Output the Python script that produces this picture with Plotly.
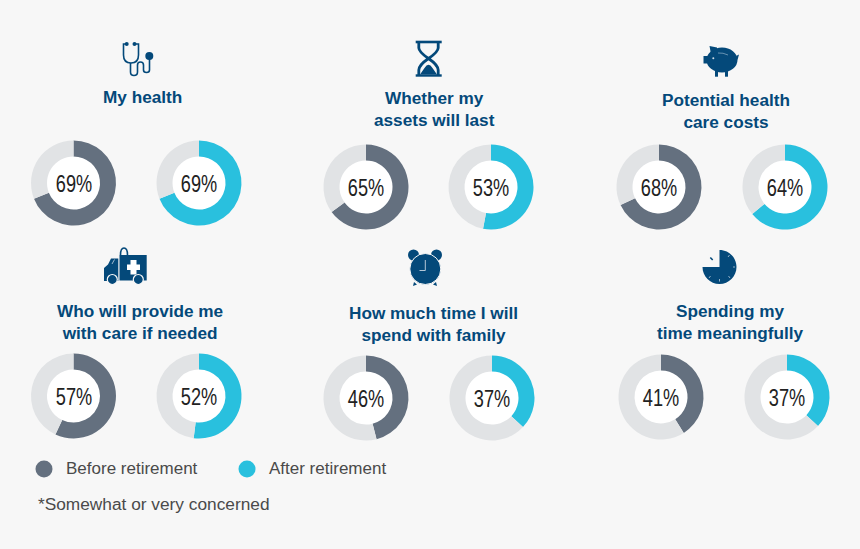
import plotly.graph_objects as go

W, H = 860, 549

titles = ['My health', 'Whether my<br>assets will last', 'Potential health<br>care costs',
          'Who will provide me<br>with care if needed', 'How much time I will<br>spend with family',
          'Spending my<br>time meaningfully']
before = [69, 65, 68, 57, 46, 41]
after = [69, 53, 64, 52, 37, 37]
series_names = ['Before retirement', 'After retirement']
footnote = '*Somewhat or very concerned'

NAVY = '#04497a'
SLATE = '#64707f'
CYAN = '#29c0de'
TRACK = '#e1e3e5'
BG = '#f7f7f7'

# layout in page pixels
title_pos = [(142, 97), (434.5, 109), (726, 111), (140, 322), (433, 323.5), (730, 322)]
before_pos = [(73.5, 183), (366, 187), (659, 187), (73.5, 396), (366, 398), (661, 397)]
after_pos = [(199, 183), (491, 187), (785, 187), (199, 396), (492, 398), (787, 397)]
R_OUT, R_IN = 42.5, 26.5
FONT = 'Liberation Sans'


def donut(val, center, color):
    cx, cy = center
    return go.Pie(values=[val, 100 - val], sort=False, direction='clockwise', rotation=0,
                  hole=R_IN / R_OUT, textinfo='none', hoverinfo='skip', showlegend=False,
                  marker=dict(colors=[color, TRACK], line=dict(width=0)),
                  domain=dict(x=[(cx - R_OUT) / W, (cx + R_OUT) / W],
                              y=[1 - (cy + R_OUT) / H, 1 - (cy - R_OUT) / H]))


def circle(cx, cy, r, fill=NAVY, line=None, lw=0, layer='above'):
    return dict(type='circle', x0=cx - r, x1=cx + r, y0=cy - r, y1=cy + r, xref='x', yref='y',
                fillcolor=fill, line=dict(color=line or fill, width=lw), layer=layer)


def ellipse(cx, cy, rx, ry, fill=NAVY):
    return dict(type='circle', x0=cx - rx, x1=cx + rx, y0=cy - ry, y1=cy + ry, xref='x', yref='y',
                fillcolor=fill, line=dict(color=fill, width=0), layer='above')


def path(d, fill=NAVY):
    return dict(type='path', path=d, xref='x', yref='y', fillcolor=fill,
                line=dict(color=fill, width=0), layer='above')


def stroke(d, color=NAVY, lw=1.6):
    return dict(type='path', path=d, xref='x', yref='y', fillcolor='rgba(0,0,0,0)',
                line=dict(color=color, width=lw), layer='above')


def stethoscope():
    return [
        stroke('M126,44 H123.5 V55 Q123.5,63 131,63 Q138.5,63 138.5,55 V44 H135'),
        stroke('M130.5,63 V72 Q130.5,75.5 134,75.5 Q137.5,75.5 137.5,72 V65 Q137.5,62 140.5,62 '
               'Q143.5,62 143.5,65 V70 Q143.5,72.5 146.5,72.5 Q149.5,72.5 149.5,70 V58'),
        circle(126.7, 44, 2), circle(134.5, 44, 2), circle(149.3, 56, 4),
    ]


def hourglass():
    return [
        path('M415.7,40.7 H441.7 V43.3 H415.7 Z'),
        path('M415.7,74.3 H441.7 V76.7 H415.7 Z'),
        stroke('M418.8,42 V48 Q419,52 428.5,58.5 Q438,52 438.2,48 V42 '
               'M418.8,75 V70 Q419,65 428.5,58.5 Q438,65 438.2,70 V75', lw=2.8),
        path('M420,74.5 L424.5,68 Q428.5,61.5 432.5,68 L437,74.5 Z'),
    ]


def piggy():
    return [
        ellipse(722, 60, 15.5, 12.5),
        path('M703.5,56 H712 V63.5 H703.5 Z'),
        path('M709.5,46 L717,47.5 L717,53 L711,54 Z'),
        path('M736,56 L739,54.5 L737.5,60 Z'),
        path('M715,68 H718 V76.7 H715 Z'),
        path('M725,68 H728 V76.7 H725 Z'),
        circle(713.3, 58.3, 1, fill='#cfdbe5'),
        stroke('M718,53 Q723,52.5 728,55', color='#8fb0c8', lw=0.7),
    ]


def ambulance():
    return [
        stroke('M120.5,255 Q120.5,248 124,248 Q127.5,248 127.5,255', lw=1.6),
        path('M119.5,255 H146.7 V280.5 H119.5 Z'),
        path('M104,281 V268 L108,264.5 L111,258.5 H118.3 V281 Z'),
        path('M127,264.5 H130.5 V260 H136.5 V264.5 H140 V270 H136.5 V274.5 H130.5 V270 H127 Z', fill='#ffffff'),
        stroke('M112,264 L114.5,259.5', color='#c7d6e2', lw=0.8),
        circle(112.3, 279.5, 5, line=BG, lw=1.2), circle(138.3, 279.5, 5, line=BG, lw=1.2),
    ]


def alarm():
    return [
        circle(413.5, 255, 5.5), circle(436.5, 255, 5.5),
        circle(425.3, 269, 15.5, line=BG, lw=1),
        path('M414,282 L417,284.5 L413,286 Z'), path('M436,282 L433,284.5 L437,286 Z'),
        stroke('M425.3,260 V270.5 H419.5', color='#c7d6e2', lw=0.9),
    ]


def timer():
    ticks = ['M728,257 L729.5,255', 'M733,267 H735', 'M728.5,276 L730,278', 'M719.5,279 V281.5',
             'M710.5,276 L709,278']
    # arcs written as beziers, A is not handled for data referenced paths
    return [
        path('M719.5,267 V250 C728.9,250 736.5,257.6 736.5,267 C736.5,276.4 728.9,284 719.5,284 '
             'C710.1,284 702.5,276.4 702.5,267 Z'),
        stroke('M710.3,257.5 L712.7,260', lw=1.6),
    ] + [stroke(t, color='#b9ccda', lw=0.8) for t in ticks]


fig = go.Figure()

shapes = []
for c in before_pos + after_pos:
    shapes.append(circle(c[0], c[1], R_IN + 1, fill='#ffffff', layer='below'))
for i in range(len(titles)):
    fig.add_trace(donut(before[i], before_pos[i], SLATE))
    fig.add_trace(donut(after[i], after_pos[i], CYAN))

shapes += stethoscope() + hourglass() + piggy() + ambulance() + alarm() + timer()

# legend keys
fig.add_trace(go.Scatter(x=[44], y=[469], mode='markers', showlegend=False, hoverinfo='skip',
                         marker=dict(color=SLATE, size=17)))
fig.add_trace(go.Scatter(x=[247], y=[469], mode='markers', showlegend=False, hoverinfo='skip',
                         marker=dict(color=CYAN, size=17)))

annotations = []


def label(text, x, y, size, color, anchor='center'):
    annotations.append(dict(text=text, x=x, y=y, xref='x', yref='y', showarrow=False,
                            xanchor=anchor, yanchor='middle', align='center',
                            font=dict(family=FONT, size=size, color=color)))


# percent labels go first so the css below can pick them by index
for i in range(len(titles)):
    label(f'{before[i]}%', before_pos[i][0], before_pos[i][1] + 0.5, 23, '#222222')
    label(f'{after[i]}%', after_pos[i][0], after_pos[i][1] + 0.5, 23, '#222222')
n_pct = len(annotations)

for i, t in enumerate(titles):
    label('<b>' + t + '</b>', title_pos[i][0], title_pos[i][1], 17.2, NAVY)

label(series_names[0], 64, 468.5, 17, '#4a4a4a', anchor='left')
label(series_names[1], 267, 468.5, 17, '#4a4a4a', anchor='left')
label(footnote, 36, 503.5, 17.3, '#4a4a4a', anchor='left')

fig.update_layout(width=W, height=H, margin=dict(l=0, r=0, t=0, b=0),
                  paper_bgcolor=BG, plot_bgcolor='rgba(0,0,0,0)', shapes=shapes,
                  annotations=annotations, showlegend=False,
                  xaxis=dict(range=[0, W], visible=False, fixedrange=True),
                  yaxis=dict(range=[H, 0], visible=False, fixedrange=True))

# page margin off, and the condensed look of the percent labels
pct_sel = ','.join(f'.annotation[data-index="{i}"] .annotation-text' for i in range(n_pct))
css = ('body{margin:0;background:' + BG + '}'
       + pct_sel + '{transform-box:fill-box;transform-origin:center;transform:scaleX(0.79)}')
post = "var s=document.createElement('style');s.textContent='" + css.replace("'", "\\'") + "';document.head.appendChild(s);"

fig.write_html('out.html', post_script=post, config=dict(displayModeBar=False))
